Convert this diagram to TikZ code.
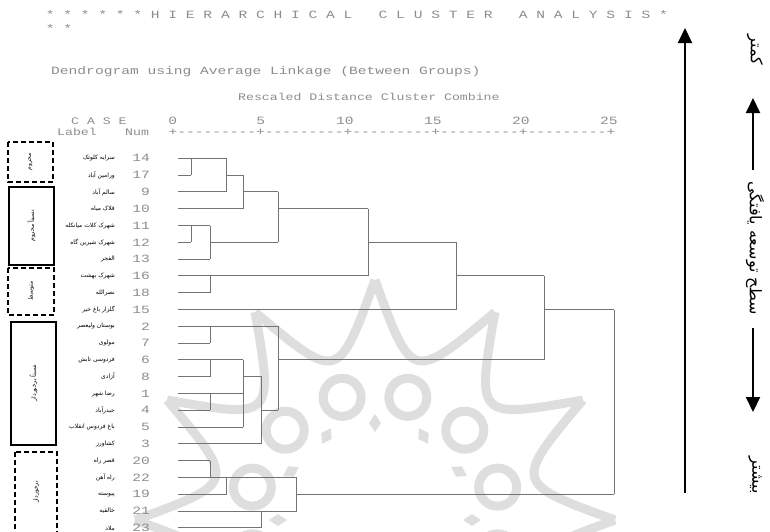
\documentclass[tikz,border=0pt]{standalone}
\usepackage{fontspec}
\usepackage{graphicx}
\usetikzlibrary{arrows.meta}
\setmonofont{Liberation Mono}
\newfontfamily\farsi[Script=Arabic]{DejaVu Sans}
\TeXXeTstate=1
\newcommand{\fa}[1]{{\farsi\beginR #1\endR}}
\newcommand{\lowtxt}[1]{\scalebox{1}[0.76]{#1}}
\tikzset{
  spss/.style={font=\ttfamily\fontsize{14.6}{16}\selectfont,text=black!45,inner sep=0pt},
  spssn/.style={font=\ttfamily\fontsize{13.2}{15}\selectfont,text=black!45,inner sep=0pt},
  link/.style={draw=black!55,line width=0.9pt},
  casename/.style={font=\farsi\fontsize{6}{7}\selectfont,anchor=east,inner sep=0pt},
  casenum/.style={spss,anchor=east},
  grpdashed/.style={draw,line width=2.2pt,dash pattern=on 5pt off 3pt},
  grpsolid/.style={draw,line width=1.6pt},
  grplbl/.style={font=\farsi\fontsize{6}{7}\selectfont,rotate=90,inner sep=0pt},
  levelarrow/.style={line width=2pt,-{Triangle[length=15pt,width=14pt]}},
  sidetxt/.style={font=\farsi\fontsize{16}{18}\selectfont,rotate=-90,inner sep=0pt},
  wm/.style={draw=black!13,line width=9pt}
}
\begin{document}
\begin{tikzpicture}[x=1pt,y=-1pt]
\useasboundingbox (0,0) rectangle (770,531);
% watermark
\begin{scope}
\clip (0,0) rectangle (770,531);
\begin{scope}[shift={(375,520)}]
\foreach \a in {180,210,...,510}{
  \draw[wm] (\a:240) .. controls ({\a+15}:143) .. ({\a+30}:240);
  \draw[wm] ({\a+15}:127) circle (19);
  \fill[black!13,shift={(\a:97)},rotate=\a] (-9,0) -- (0,6) -- (9,0) -- (0,-6) -- cycle;
}
\end{scope}
\end{scope}

% SPSS header
\node[spss,anchor=base west] (title) at (45.6,18) {\lowtxt{* * * * * * H I E R A R C H I C A L~~~C L U S T E R~~~A N A L Y S I S *}};
\node[spss,anchor=base west] (title2) at (45.6,32) {\lowtxt{* *}};
\node[spss,anchor=base west] (method) at (51,74) {\lowtxt{Dendrogram using Average Linkage (Between Groups)}};
\node[spssn,anchor=base west] (rescaled) at (238,100) {\lowtxt{Rescaled Distance Cluster Combine}};
\node[spssn,anchor=base west] (case) at (71,124) {\lowtxt{C A S E}};
\node[spssn,anchor=base west] (label) at (57,135) {\lowtxt{Label}};
\node[spssn,anchor=base west] (num) at (125,135) {\lowtxt{Num}};
\foreach \v/\x in {0/172.7,5/260.7,10/344.9,15/432.9,20/520.9,25/608.9}
  \node[spss,anchor=base] (s\v) at (\x,124) {\lowtxt{\v}};
\node[spss,anchor=base west] (ruler) at (168.3,135) {\lowtxt{+---------+---------+---------+---------+---------+}};

% cases
\foreach \i/\n/\t in {0/14/سرایه کلوتک,1/17/ورامین آباد,2/9/سالم آباد,3/10/قلاک میاه,
  4/11/شهرک کلات میانکله,5/12/شهرک شیرین گاه,6/13/الفجر,7/16/شهرک بهشت,8/18/نصرالله,
  9/15/گلزار باغ خیر,10/2/بوستان ولیعصر,11/7/مولوی,12/6/فردوسی تابش,13/8/آزادی,
  14/1/رضا شهر,15/4/حیدرآباد,16/5/باغ فردوس انقلاب,17/3/کشاورز,18/20/قصر راه,
  19/22/راه آهن,20/19/پیوسته,21/21/خالقیه,22/23/ملاد}{
  \coordinate (r\i) at (178,{158.3+16.8*\i});
  \node[casenum] (n\i) at (150,{158.3+16.8*\i}) {\lowtxt{\n}};
  \node[casename] (c\i) at (115,{158.3+16.8*\i}) {\fa{\t}};
}

% merge levels
\coordinate (la) at (191,0);
\coordinate (lb) at (210,0);
\coordinate (lc) at (226.7,0);
\coordinate (ld) at (243.3,0);
\coordinate (le) at (261.7,0);
\coordinate (lf) at (278.3,0);
\coordinate (lg) at (296.7,0);
\coordinate (lh) at (368.3,0);
\coordinate (li) at (456,0);
\coordinate (lj) at (544.3,0);
\coordinate (lk) at (614,0);

% dendrogram
\foreach \i/\m in {0/c,1/a,2/c,3/d,4/b,5/a,6/b,7/h,8/b,9/i,10/f,11/b,12/d,13/b,
  14/d,15/b,16/d,17/e,18/b,19/b,20/c,21/e,22/e}
  \draw[link] (r\i) -- (r\i -| l\m);
\foreach \m/\p/\q in {a/0/1,c/0/2,d/1/3,a/4/5,b/4/6,f/2/5,b/7/8,h/3/7,i/5/9,b/10/11,
  b/12/13,b/14/15,d/12/16,e/13/17,f/10/15,j/7/12,b/18/19,c/19/20,e/21/22,g/19/21,k/9/20}
  \draw[link] (r\p -| l\m) -- (r\q -| l\m);
\foreach \i/\m/\n in {1/c/d,2/d/f,5/b/f,3/f/h,5/h/i,7/i/j,13/d/e,15/e/f,12/f/j,
  9/j/k,19/b/g,21/e/g,20/g/k}
  \draw[link] (r\i -| l\m) -- (r\i -| l\n);

% groups
\draw[grpdashed] (8,142) rectangle (53,182);
\draw[grpsolid] (9,187) rectangle (54,265);
\draw[grpdashed] (8,268) rectangle (54,315);
\draw[grpsolid] (11,322) rectangle (56,445);
\draw[grpdashed] (15,452) rectangle (57,533);
\node[grplbl] (g1) at (30.5,162) {\fa{محروم}};
\node[grplbl] (g2) at (31.5,226) {\fa{نسبتاً محروم}};
\node[grplbl] (g3) at (31,291) {\fa{متوسط}};
\node[grplbl] (g4) at (33.5,383) {\fa{نسبتاً برخوردار}};
\node[grplbl] (g5) at (36,492) {\fa{برخوردار}};

% development level
\coordinate (up) at (685,28);
\coordinate (down) at (685,493);
\draw[levelarrow,{Triangle[length=15pt,width=14pt]}-] (up) -- (down);
\node[sidetxt] (less) at (755,50) {\fa{کمتر}};
\node[sidetxt] (level) at (755,248) {\fa{سطح توسعه یافتگی}};
\node[sidetxt] (more) at (755,475) {\fa{بیشتر}};
\coordinate (upend) at (753,98);
\coordinate (downend) at (753,412);
\draw[levelarrow] (753,170) -- (upend);
\draw[levelarrow] (753,328) -- (downend);
\end{tikzpicture}
\end{document}
